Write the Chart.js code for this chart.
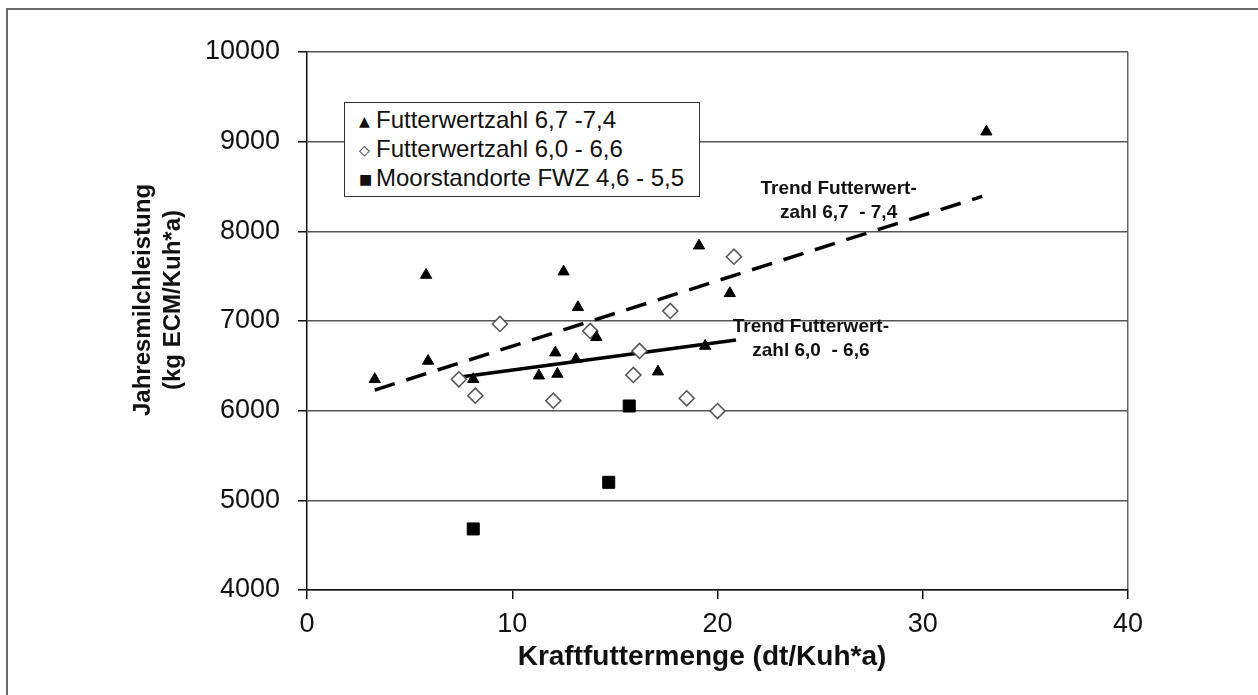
<!DOCTYPE html>
<html>
<head>
<meta charset="utf-8">
<script src="https://cdn.jsdelivr.net/npm/chart.js@4.4.1/dist/chart.umd.min.js"></script>
<style>
  html, body { margin: 0; padding: 0; background: #fff; }
  body { width: 1258px; height: 695px; position: relative; overflow: hidden;
         font-family: Arial, 'Liberation Sans', sans-serif; }
  #frame { position: absolute; left: 6px; top: 8px; width: 1400px; height: 900px;
           border-left: 2px solid #6a6a6a; border-top: 2px solid #6a6a6a; }
  #chart { position: absolute; left: 0; top: 0; }
  #legend { position: absolute; left: 344px; top: 102px; width: 340px; height: 91px;
            border: 1.5px solid #333; background: #fff; padding: 2px 0 0 14px;
            font-size: 24px; color: #111; }
  #legend div { height: 29px; line-height: 29px; white-space: nowrap; }
  #legend span.m { display: inline-block; width: 17px; font-size: 14px; text-align: left;
                   font-family: 'DejaVu Sans', sans-serif; vertical-align: 2px; }
</style>
</head>
<body>
<div id="frame"></div>
<canvas id="chart" width="1258" height="695"></canvas>
<div id="legend"></div>
<script>
// Kraftfuttermenge vs. Jahresmilchleistung

// Futterwertzahl 6,7 - 7,4 (triangles)
const triX = [3.3, 5.8, 5.9, 8.1, 11.3, 12.1, 12.2, 12.5, 13.1, 13.2, 14.1, 17.1, 19.1, 19.4, 20.6, 33.1];
const triY = [6350, 7513, 6554, 6350, 6390, 6647, 6409, 7550, 6573, 7153, 6818, 6435, 7840, 6721, 7309, 9111];

// Futterwertzahl 6,0 - 6,6 (open diamonds)
const diaX = [7.4, 8.2, 9.4, 12.0, 13.8, 15.9, 16.2, 17.7, 18.5, 20.0, 20.8];
const diaY = [6350, 6167, 6967, 6111, 6889, 6398, 6666, 7112, 6138, 5996, 7717];

// Moorstandorte FWZ 4,6 - 5,5 (squares)
const sqX = [8.1, 14.7, 15.7];
const sqY = [4681, 5201, 6052];

// linear trends (end points)
const trendHighX = [3.3, 32.9];
const trendHighY = [6230, 8390];
const trendLowX = [7.4, 20.9];
const trendLowY = [6372, 6788];

const seriesLabels = ['Futterwertzahl 6,7 -7,4', 'Futterwertzahl 6,0 - 6,6', 'Moorstandorte FWZ 4,6 - 5,5'];
const legendMarks = ['\u25B2', '\u25C7', '\u25A0'];
const trendLabels = [
    ['Trend Futterwert-', 'zahl 6,7  - 7,4'],
    ['Trend Futterwert-', 'zahl 6,0  - 6,6']
];
const xTitle = 'Kraftfuttermenge (dt/Kuh*a)';
const yTitle = ['Jahresmilchleistung', '(kg ECM/Kuh*a)'];

const xTicks = [0, 10, 20, 30, 40];
const yTicks = [4000, 5000, 6000, 7000, 8000, 9000, 10000];

function toPoints(xs, ys) {
    return xs.map((x, i) => ({ x, y: ys[i] }));
}

const FONT = "Arial, 'Liberation Sans', sans-serif";

// axis titles: the original sits them slightly off the axis centres
const axisTitlePlugin = {
    id: 'axisTitles',
    afterDraw(chart) {
        const ctx = chart.ctx;
        ctx.save();
        ctx.fillStyle = '#111';
        ctx.textAlign = 'center';
        ctx.textBaseline = 'middle';

        ctx.font = 'bold 24px ' + FONT;
        yTitle.forEach((t, i) => {
            ctx.save();
            ctx.translate(143 + i * 30, 300);
            ctx.rotate(-Math.PI / 2);
            ctx.fillText(t, 0, 0);
            ctx.restore();
        });

        ctx.font = 'bold 28px ' + FONT;
        ctx.fillText(xTitle, 702, 657);
        ctx.restore();
    }
};

// text next to the trend lines, anchored in data units
const trendTextPlugin = {
    id: 'trendText',
    afterDatasetsDraw(chart) {
        const ctx = chart.ctx;
        const xs = chart.scales.x, ys = chart.scales.y;
        const anchors = [{ x: 25.9, y: 8472 }, { x: 24.55, y: 6937 }];
        ctx.save();
        ctx.fillStyle = '#111';
        ctx.font = 'bold 19px ' + FONT;
        ctx.textAlign = 'center';
        ctx.textBaseline = 'middle';
        trendLabels.forEach((lines, i) => {
            const px = xs.getPixelForValue(anchors[i].x);
            const py = ys.getPixelForValue(anchors[i].y);
            lines.forEach((t, j) => ctx.fillText(t, px, py + j * 24));
        });
        ctx.restore();
    }
};

const datasets = [
    {
        label: seriesLabels[0],
        data: toPoints(triX, triY),
        pointStyle: 'triangle',
        pointRadius: 6.5,
        backgroundColor: '#000',
        borderColor: '#000',
        borderWidth: 1
    },
    {
        label: seriesLabels[1],
        data: toPoints(diaX, diaY),
        pointStyle: 'rectRot',
        pointRadius: 7.5,
        backgroundColor: '#fff',
        borderColor: '#555',
        borderWidth: 1.6
    },
    {
        label: seriesLabels[2],
        data: toPoints(sqX, sqY),
        pointStyle: 'rect',
        pointRadius: 8.5,
        backgroundColor: '#000',
        borderColor: '#000',
        borderWidth: 1
    },
    {
        label: 'Trend Futterwertzahl 6,7 - 7,4',
        type: 'line',
        data: toPoints(trendHighX, trendHighY),
        borderColor: '#000',
        borderWidth: 3.5,
        borderDash: [21, 12],
        pointRadius: 0,
        fill: false
    },
    {
        label: 'Trend Futterwertzahl 6,0 - 6,6',
        type: 'line',
        data: toPoints(trendLowX, trendLowY),
        borderColor: '#000',
        borderWidth: 3.5,
        pointRadius: 0,
        fill: false
    }
];

const ctx = document.getElementById('chart').getContext('2d');
const chart = new Chart(ctx, {
    type: 'scatter',
    data: { datasets },
    options: {
        responsive: false,
        animation: false,
        devicePixelRatio: 1,
        layout: { padding: { left: 128, top: 52, right: 130, bottom: 0 } },
        plugins: {
            legend: { display: false },
            tooltip: { enabled: false }
        },
        scales: {
            x: {
                type: 'linear',
                min: 0,
                max: 40,
                afterBuildTicks: scale => { scale.ticks = xTicks.map(v => ({ value: v })); },
                afterFit: scale => { scale.height = 105; },
                ticks: {
                    color: '#111',
                    padding: 9,
                    font: { family: FONT, size: 27 },
                    callback: v => String(v)
                },
                grid: {
                    // only the right frame of the plot area is a vertical line
                    color: c => (c.tick && c.tick.value === 40 ? '#666' : 'rgba(0,0,0,0)'),
                    lineWidth: 1.5,
                    tickColor: '#111',
                    tickLength: 9
                },
                border: { color: '#111', width: 1.5 }
            },
            y: {
                type: 'linear',
                min: 4000,
                max: 10000,
                afterBuildTicks: scale => { scale.ticks = yTicks.map(v => ({ value: v })); },
                afterFit: scale => { scale.width = 179; },
                ticks: {
                    color: '#111',
                    padding: 18,
                    font: { family: FONT, size: 27 },
                    callback: v => String(v)
                },
                grid: {
                    color: '#555',
                    lineWidth: 1.5,
                    tickColor: '#111',
                    tickLength: 9
                },
                border: { color: '#111', width: 1.5 }
            }
        }
    },
    plugins: [axisTitlePlugin, trendTextPlugin]
});

// legend box inside the plot, as in the original
const legend = document.getElementById('legend');
seriesLabels.forEach((lab, i) => {
    const row = document.createElement('div');
    const m = document.createElement('span');
    m.className = 'm';
    m.textContent = legendMarks[i];
    row.appendChild(m);
    row.appendChild(document.createTextNode(lab));
    legend.appendChild(row);
});
</script>
</body>
</html>
